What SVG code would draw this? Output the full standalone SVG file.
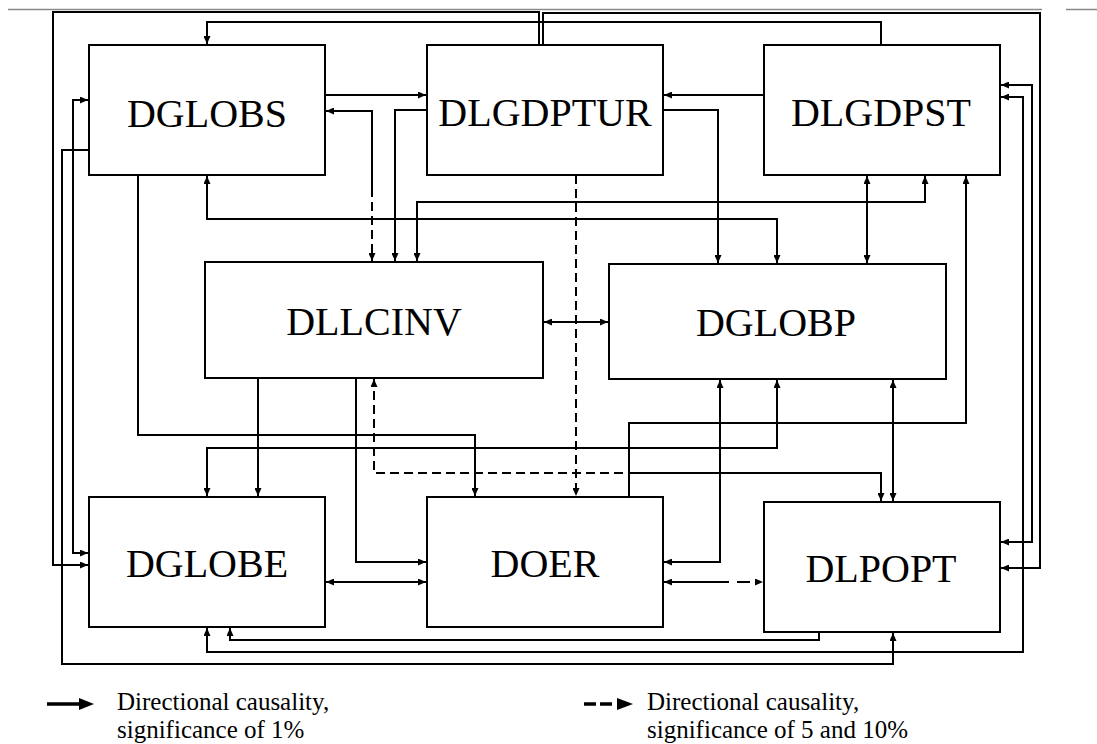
<svg xmlns="http://www.w3.org/2000/svg" width="1097" height="744" viewBox="0 0 1097 744">
  <style>
    .box { fill: #fff; stroke: #000; stroke-width: 2; }
    .lbl { font-family: "Liberation Serif", "DejaVu Serif", serif; font-size: 40px; text-anchor: middle; fill: #000; }
    .c { fill: none; stroke: #000; stroke-width: 2; }
    .d { stroke-dasharray: 9 5; }
    .leg { font-family: "Liberation Serif", "DejaVu Serif", serif; font-size: 25px; fill: #000; }
  </style>
  <defs>
    <marker id="ah" viewBox="0 0 8 7" refX="8" refY="3.5" markerWidth="8" markerHeight="7" markerUnits="userSpaceOnUse" orient="auto-start-reverse">
      <path d="M0,0 L8,3.5 L0,7 z" fill="#000"/>
    </marker>
  </defs>

  <rect width="1097" height="744" fill="#fff"/>
  <!-- page rule -->
  <path d="M8,9.5 H1042 M1066,9.5 H1097" stroke="#8a8a8a" stroke-width="1.5" fill="none"/>

  <g id="DGLOBS"><rect class="box" x="89" y="45" width="236" height="130"/><text class="lbl" x="207" y="127">DGLOBS</text></g>
  <g id="DLGDPTUR"><rect class="box" x="427" y="45" width="236" height="130"/><text class="lbl" x="545" y="126">DLGDPTUR</text></g>
  <g id="DLGDPST"><rect class="box" x="764" y="45" width="236" height="130"/><text class="lbl" x="881" y="126">DLGDPST</text></g>
  <g id="DLLCINV"><rect class="box" x="205" y="262" width="338" height="116"/><text class="lbl" x="374" y="335">DLLCINV</text></g>
  <g id="DGLOBP"><rect class="box" x="609" y="264" width="337" height="115"/><text class="lbl" x="776" y="336">DGLOBP</text></g>
  <g id="DGLOBE"><rect class="box" x="89" y="497" width="236" height="130"/><text class="lbl" x="207" y="577">DGLOBE</text></g>
  <g id="DOER"><rect class="box" x="427" y="497" width="236" height="130"/><text class="lbl" x="545" y="577">DOER</text></g>
  <g id="DLPOPT"><rect class="box" x="764" y="502" width="236" height="130"/><text class="lbl" x="881" y="582">DLPOPT</text></g>

  <g id="connectors">
    <path class="c" d="M539,45 V12 H53 V565 H88" marker-end="url(#ah)"/>
    <path class="c" d="M543,45 V13 H1040 V568 H1001" marker-end="url(#ah)"/>
    <path class="c" d="M881,45 V22 H207 V44" marker-end="url(#ah)"/>
    <path class="c" d="M88,100 H73 V553 H88" marker-start="url(#ah)" marker-end="url(#ah)"/>
    <path class="c" d="M89,150 H62 V664 H893 V633" marker-end="url(#ah)"/>
    <path class="c" d="M325,95 H426" marker-end="url(#ah)"/>
    <path class="c" d="M372,188 V111 H326" marker-end="url(#ah)"/>
    <path class="c d" d="M372,188 V261" marker-end="url(#ah)"/>
    <path class="c" d="M427,110 H395 V261" marker-end="url(#ah)"/>
    <path class="c" d="M764,95 H664" marker-end="url(#ah)"/>
    <path class="c" d="M663,110 H718 V263" marker-end="url(#ah)"/>
    <path class="c d" d="M576,175 V496" marker-end="url(#ah)"/>
    <path class="c" d="M417,261 V202 H925 V176" marker-start="url(#ah)" marker-end="url(#ah)"/>
    <path class="c" d="M207,176 V219 H777 V263" marker-start="url(#ah)" marker-end="url(#ah)"/>
    <path class="c" d="M867,176 V263" marker-start="url(#ah)" marker-end="url(#ah)"/>
    <path class="c" d="M629,497 V423 H966 V176" marker-end="url(#ah)"/>
    <path class="c" d="M544,322 H608" marker-start="url(#ah)" marker-end="url(#ah)"/>
    <path class="c" d="M138,175 V435 H475 V496" marker-end="url(#ah)"/>
    <path class="c" d="M207,496 V448 H777 V380" marker-start="url(#ah)" marker-end="url(#ah)"/>
    <path class="c" d="M258,378 V496" marker-end="url(#ah)"/>
    <path class="c" d="M356,378 V562 H426" marker-end="url(#ah)"/>
    <path class="c d" d="M637,473 H374 V379" marker-end="url(#ah)"/>
    <path class="c" d="M633,473 H881 V501" marker-end="url(#ah)"/>
    <path class="c" d="M893,380 V501" marker-start="url(#ah)" marker-end="url(#ah)"/>
    <path class="c" d="M720,380 V562 H664" marker-start="url(#ah)" marker-end="url(#ah)"/>
    <path class="c" d="M729,582 H664" marker-end="url(#ah)"/>
    <path class="c" d="M737,582 H763" stroke-dasharray="13 40" marker-end="url(#ah)"/>
    <path class="c" d="M326,582 H426" marker-start="url(#ah)" marker-end="url(#ah)"/>
    <path class="c" d="M1001,85 H1032 V542 H1001" marker-start="url(#ah)" marker-end="url(#ah)"/>
    <path class="c" d="M207,628 V652 H1023 V97 H1001" marker-start="url(#ah)" marker-end="url(#ah)"/>
    <path class="c" d="M819,632 V640 H230 V628" marker-end="url(#ah)"/>
  </g>

  <g id="legend">
    <path d="M47,704 H81" stroke="#000" stroke-width="3.5" fill="none"/>
    <path d="M79,698 L94,704 L79,710 z" fill="#000"/>
    <text class="leg" x="117" y="710">Directional causality,</text>
    <text class="leg" x="117" y="738">significance of 1%</text>
    <path d="M584,704 H615" stroke="#000" stroke-width="3.5" stroke-dasharray="12 4" fill="none"/>
    <path d="M617,698 L633,704 L617,710 z" fill="#000"/>
    <text class="leg" x="647" y="710">Directional causality,</text>
    <text class="leg" x="647" y="738">significance of 5 and 10%</text>
  </g>
</svg>
